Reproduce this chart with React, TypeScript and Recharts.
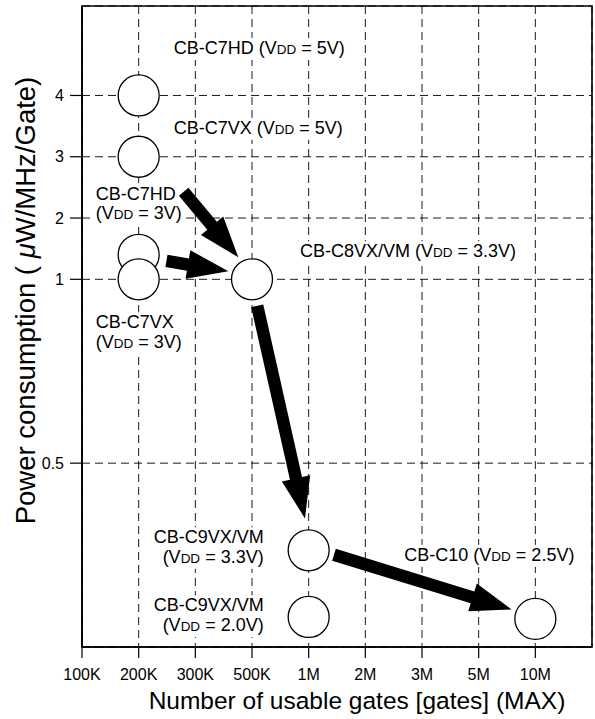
import React from "react";
import {
  ScatterChart,
  Scatter,
  XAxis,
  YAxis,
  CartesianGrid,
  ReferenceLine,
  ReferenceArea,
  Label,
} from "recharts";

const FONT = '"Liberation Sans", Arial, Helvetica, sans-serif';

// x axis: equally spaced gate counts, the frame ends one step after 10M
const gateTicks = [100000, 200000, 300000, 500000, 1000000, 2000000, 3000000, 5000000, 10000000];
const gateTickLabels = ["100K", "200K", "300K", "500K", "1M", "2M", "3M", "5M", "10M"];
const gateEnd = 20000000;

// y axis: linear above 1, halving steps below 1
const powerTicks = [0.5, 1, 2, 3, 4];
const powerMin = 0.25;
const powerMax = 5.46;

// circles (drawn in this order, so 1.4 sits behind 1)
const productNames = ["C7HD-5V", "C7VX-5V", "C7HD-3V", "C7VX-3V", "C8VX-3.3V", "C9VX-3.3V", "C9VX-2.0V", "C10-2.5V"];
const productGates = [200000, 200000, 200000, 200000, 500000, 1000000, 1000000, 10000000];
const productPower = [4, 3, 1.4, 1, 1, 0.36, 0.28, 0.278];
const productLabels = [
  ["CB-C7HD (VDD = 5V)"],
  ["CB-C7VX (VDD = 5V)"],
  ["CB-C7HD", "(VDD = 3V)"],
  ["CB-C7VX", "(VDD = 3V)"],
  ["CB-C8VX/VM (VDD = 3.3V)"],
  ["CB-C9VX/VM", "(VDD = 3.3V)"],
  ["CB-C9VX/VM", "(VDD = 2.0V)"],
  ["CB-C10 (VDD = 2.5V)"],
];

// arrows: from -> to
const arrowFromGates = [276000, 244000, 533000, 1363000];
const arrowFromPower = [2.43, 1.3, 0.905, 0.354];
const arrowToGates = [442000, 404000, 956000, 7490000];
const arrowToPower = [1.36, 1.13, 0.406, 0.288];

const rows = productNames.map((name, i) => ({
  name,
  gates: productGates[i],
  power: productPower[i],
  lines: productLabels[i],
}));

// label placement relative to the circle centre (px), dy = first baseline
const labelLayout: Record<string, { dx: number; dy: number; anchor: "start" | "end" }> = {
  "C7HD-5V": { dx: 35, dy: -41.5, anchor: "start" },
  "C7VX-5V": { dx: 35, dy: -23, anchor: "start" },
  "C7HD-3V": { dx: -43, dy: -55, anchor: "start" },
  "C7VX-3V": { dx: -43, dy: 49, anchor: "start" },
  "C8VX-3.3V": { dx: 48, dy: -22, anchor: "start" },
  "C9VX-3.3V": { dx: -45, dy: -7, anchor: "end" },
  "C9VX-2.0V": { dx: -45, dy: -5.5, anchor: "end" },
  "C10-2.5V": { dx: -131, dy: -58, anchor: "start" },
};

const gateEdges = [...gateTicks, gateEnd];
function gatePos(v: number) {
  let i = 0;
  while (i < gateEdges.length - 2 && v > gateEdges[i + 1]) i++;
  return i + Math.log(v / gateEdges[i]) / Math.log(gateEdges[i + 1] / gateEdges[i]);
}
function powerPos(v: number) {
  return v >= 1 ? v - 1 : 3 * Math.log2(v);
}

// small d3-like scale so recharts can place things on these odd axes
function makeScale(toPos: (v: number) => number): any {
  let dom: number[] = [0, 1];
  let rng: number[] = [0, 1];
  const scale: any = (v: number) => {
    const p0 = toPos(dom[0]);
    const p1 = toPos(dom[dom.length - 1]);
    return rng[0] + ((toPos(Number(v)) - p0) / (p1 - p0)) * (rng[rng.length - 1] - rng[0]);
  };
  scale.domain = (d?: number[]) => {
    if (d === undefined) return dom.slice();
    dom = d.map(Number);
    return scale;
  };
  scale.range = (r?: number[]) => {
    if (r === undefined) return rng.slice();
    rng = r.map(Number);
    return scale;
  };
  scale.copy = () => makeScale(toPos).domain(dom).range(rng);
  scale.ticks = () => dom.slice();
  return scale;
}

const xScale = makeScale(gatePos);
const yScale = makeScale(powerPos);

const ctx = typeof document !== "undefined" ? document.createElement("canvas").getContext("2d") : null;
function measure(s: string, size: number) {
  if (!ctx) return s.length * size * 0.55;
  ctx.font = `${size}px "Liberation Sans"`;
  return ctx.measureText(s).width;
}

const LABEL_SIZE = 18;
const SUB_SIZE = 13.5;
const LINE_GAP = 19.5;

function splitVdd(line: string) {
  const k = line.indexOf("VDD");
  if (k < 0) return { pre: line, post: null as string | null };
  return { pre: line.slice(0, k) + "V", post: line.slice(k + 3) };
}
function lineWidth(line: string) {
  const { pre, post } = splitVdd(line);
  if (post === null) return measure(pre, LABEL_SIZE);
  return measure(pre, LABEL_SIZE) + measure("DD", SUB_SIZE) + measure(post, LABEL_SIZE);
}

function Annotation({ x, y, lines, anchor }: { x: number; y: number; lines: string[]; anchor: "start" | "end" }) {
  const widths = lines.map(lineWidth);
  return (
    <g>
      {lines.map((line, i) => {
        const left = anchor === "end" ? x - widths[i] : x;
        return <rect key={i} x={left - 2} y={y + i * LINE_GAP - 16} width={widths[i] + 4} height={22} fill="#fff" />;
      })}
      {lines.map((line, i) => {
        const left = anchor === "end" ? x - widths[i] : x;
        const { pre, post } = splitVdd(line);
        return (
          <text key={"t" + i} x={left} y={y + i * LINE_GAP} fontSize={LABEL_SIZE} fontFamily={FONT} fill="#000">
            {pre}
            {post !== null && <tspan fontSize={SUB_SIZE}>DD</tspan>}
            {post !== null && <tspan fontSize={LABEL_SIZE}>{post}</tspan>}
          </text>
        );
      })}
    </g>
  );
}

function Product(props: any) {
  const { cx, cy, payload } = props;
  const lay = labelLayout[payload.name];
  return (
    <g>
      <circle cx={cx} cy={cy} r={20.5} fill="#fff" stroke="#000" strokeWidth={1.3} />
      <Annotation x={cx + lay.dx} y={cy + lay.dy} lines={payload.lines} anchor={lay.anchor} />
    </g>
  );
}

function Arrow(props: any) {
  const { x1, y1, x2, y2 } = props;
  const dx = x2 - x1;
  const dy = y2 - y1;
  const len = Math.hypot(dx, dy) || 1;
  const ux = dx / len;
  const uy = dy / len;
  const nx = -uy;
  const ny = ux;
  const head = 41;
  const hw = 14.5;
  const sw = 6.2;
  const bx = x2 - ux * head;
  const by = y2 - uy * head;
  const pts = [
    [x1 + nx * sw, y1 + ny * sw],
    [bx + nx * sw, by + ny * sw],
    [bx + nx * hw, by + ny * hw],
    [x2, y2],
    [bx - nx * hw, by - ny * hw],
    [bx - nx * sw, by - ny * sw],
    [x1 - nx * sw, y1 - ny * sw],
  ];
  return <polygon points={pts.map((p) => p.join(",")).join(" ")} fill="#000" />;
}

function YTitle(props: any) {
  const vb = props.viewBox;
  const cx = vb.x + 25;
  const cy = vb.y + vb.height / 2 - 26;
  return (
    <text
      x={cx}
      y={cy}
      transform={`rotate(-90, ${cx}, ${cy})`}
      textAnchor="middle"
      dominantBaseline="central"
      fontSize={27.5}
      fontFamily={FONT}
      fill="#000"
    >
      Power consumption ( <tspan fontStyle="italic">μ</tspan>W/MHz/Gate)
    </text>
  );
}

function XTitle(props: any) {
  const vb = props.viewBox;
  return (
    <text x={vb.x + vb.width / 2 + 20} y={vb.y + 62} textAnchor="middle" fontSize={24.5} fontFamily={FONT} fill="#000">
      Number of usable gates [gates] (MAX)
    </text>
  );
}

export default function App() {
  return (
    <div style={{ position: "absolute", left: 0, top: 0, background: "#fff" }}>
      <ScatterChart width={595} height={719} margin={{ top: 6, right: 3, bottom: 0, left: 0 }}>
        <CartesianGrid stroke="#000" strokeWidth={0.9} strokeDasharray="8 5" />
        <XAxis
          type="number"
          dataKey="gates"
          scale={xScale}
          domain={[gateTicks[0], gateEnd]}
          ticks={gateTicks}
          tickFormatter={(v: number) => gateTickLabels[gateTicks.indexOf(v)]}
          height={72}
          tickSize={11}
          tickMargin={11}
          axisLine={{ stroke: "#000", strokeWidth: 1.6 }}
          tickLine={{ stroke: "#000", strokeWidth: 1.2 }}
          tick={{ fill: "#000", fontSize: 16, fontFamily: FONT }}
          interval={0}
        >
          <Label content={XTitle} />
        </XAxis>
        <YAxis
          type="number"
          dataKey="power"
          scale={yScale}
          domain={[powerMin, powerMax]}
          ticks={powerTicks}
          width={82}
          tickSize={12}
          tickMargin={6}
          axisLine={{ stroke: "#000", strokeWidth: 1.6 }}
          tickLine={{ stroke: "#000", strokeWidth: 1.2 }}
          tick={{ fill: "#000", fontSize: 16, fontFamily: FONT }}
          interval={0}
        >
          <Label content={YTitle} />
        </YAxis>
        <ReferenceArea
          x1={gateTicks[0]}
          x2={gateEnd}
          y1={powerMin}
          y2={powerMax}
          fill="none"
          stroke="#000"
          strokeWidth={1.6}
          ifOverflow="visible"
        />
        <Scatter data={rows} shape={Product} isAnimationActive={false} />
        {arrowFromGates.map((g, i) => (
          <ReferenceLine
            key={i}
            segment={[
              { x: g, y: arrowFromPower[i] },
              { x: arrowToGates[i], y: arrowToPower[i] },
            ]}
            shape={Arrow}
            ifOverflow="visible"
          />
        ))}
      </ScatterChart>
    </div>
  );
}
